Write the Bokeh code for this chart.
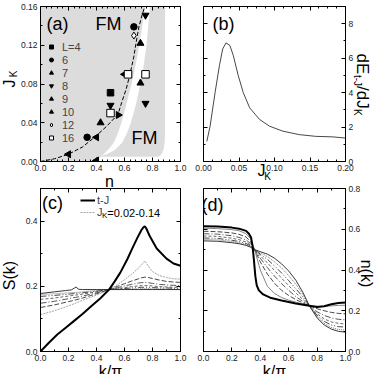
import math
from bokeh.plotting import figure
from bokeh.layouts import column, row
from bokeh.models import (Label, Legend, LegendItem, LinearAxis, SingleIntervalTicker,
                          PrintfTickFormatter, Range1d)
from bokeh.embed import file_html
from bokeh.resources import INLINE

FONT = "Liberation Sans"

a_L4_n, a_L4_J = [0.5], [0.071]
a_L6_n, a_L6_J = [0.333, 0.667], [0.025, 0.139]
a_L7_n, a_L7_J = [0.429, 0.714, 0.714], [0.040, 0.122, 0.081]
a_L8_n, a_L8_J = [0.5, 0.75, 0.75], [0.058, 0.151, 0.060]
a_L9_n, a_L9_J = [0.556], [0.048]
a_L10_n, a_L10_J = [0.2, 0.4, 0.4, 0.6], [0.0075, 0.025, 0.001, 0.090]
a_L12_n, a_L12_J = [0.667], [0.130]
a_L16_n, a_L16_J = [0.5, 0.625, 0.75], [0.050, 0.090, 0.090]

a_bnd_n = [0.0, 0.1, 0.2, 0.3, 0.39, 0.47, 0.553, 0.58, 0.612, 0.641, 0.665, 0.683, 0.703, 0.727, 0.745]
a_bnd_J = [0.0, 0.0028, 0.0075, 0.015, 0.0255, 0.036, 0.0485, 0.061, 0.0747, 0.0911, 0.107, 0.1228, 0.139, 0.152, 0.16]

a_gl_J = [0.0, 0.005, 0.01, 0.015, 0.02, 0.03, 0.04, 0.05, 0.06, 0.08, 0.10, 0.12, 0.14, 0.16]
a_gl_n = [0.39, 0.43, 0.47, 0.50, 0.525, 0.555, 0.578, 0.597, 0.615, 0.65, 0.68, 0.705, 0.727, 0.747]
a_gr_J = [0.005, 0.008, 0.012, 0.016, 0.02, 0.03, 0.04, 0.05, 0.06, 0.08, 0.10, 0.12, 0.14, 0.16]
a_gr_n = [0.42, 0.48, 0.53, 0.56, 0.585, 0.62, 0.645, 0.665, 0.683, 0.713, 0.738, 0.757, 0.77, 0.782]
a_gre_J = [0.16, 0.03, 0.02, 0.013, 0.009, 0.006, 0.005]
a_gre_n = [0.89, 0.89, 0.887, 0.88, 0.87, 0.855, 0.84]

b_J = [0.0047, 0.0093, 0.0163, 0.0224, 0.027, 0.0317, 0.0373, 0.042, 0.049, 0.056,
       0.065, 0.079, 0.093, 0.112, 0.135, 0.158, 0.182, 0.2]
b_dE = [1.17, 2.05, 4.0, 5.56, 6.53, 6.89, 6.73, 6.15, 4.98, 4.0,
        3.12, 2.44, 2.05, 1.76, 1.56, 1.46, 1.43, 1.36]

c_tJ_k = [0, 0.06, 0.12, 0.18, 0.24, 0.30, 0.36, 0.42, 0.49, 0.53, 0.57, 0.62, 0.66, 0.69,
          0.72, 0.735, 0.745, 0.755, 0.78, 0.83, 0.9, 0.95, 1.0]
c_tJ_S = [0, 0.027, 0.052, 0.073, 0.094, 0.115, 0.138, 0.16, 0.19, 0.215, 0.242, 0.283, 0.32,
          0.347, 0.372, 0.381, 0.384, 0.378, 0.354, 0.316, 0.285, 0.27, 0.263]
c_k = [0, 0.1, 0.2, 0.25, 0.3, 0.4, 0.49, 0.55, 0.6, 0.65, 0.7, 0.72, 0.745, 0.77, 0.8, 0.85, 0.9, 0.95, 1.0]
c_J02 = [0.113, 0.125, 0.14, 0.148, 0.157, 0.173, 0.19, 0.205, 0.22, 0.237, 0.256, 0.265, 0.278, 0.262, 0.245, 0.233, 0.227, 0.223, 0.222]
c_J04 = [0.135, 0.143, 0.153, 0.158, 0.164, 0.177, 0.19, 0.2, 0.208, 0.216, 0.223, 0.226, 0.228, 0.227, 0.224, 0.219, 0.215, 0.213, 0.212]
c_J06 = [0.148, 0.154, 0.162, 0.166, 0.17, 0.18, 0.19, 0.196, 0.201, 0.206, 0.21, 0.211, 0.212, 0.211, 0.209, 0.206, 0.204, 0.203, 0.202]
c_J08 = [0.16, 0.164, 0.17, 0.173, 0.176, 0.183, 0.19, 0.193, 0.196, 0.199, 0.201, 0.202, 0.202, 0.202, 0.201, 0.199, 0.198, 0.197, 0.197]
c_J10 = [0.169, 0.172, 0.176, 0.178, 0.18, 0.185, 0.19, 0.192, 0.193, 0.195, 0.196, 0.197, 0.197, 0.197, 0.196, 0.195, 0.195, 0.194, 0.194]
c_J12 = [0.175, 0.177, 0.18, 0.181, 0.183, 0.187, 0.19, 0.191, 0.191, 0.192, 0.192, 0.193, 0.193, 0.193, 0.192, 0.192, 0.192, 0.191, 0.191]
c_J14_k = [0, 0.1, 0.18, 0.22, 0.24, 0.255, 0.27, 0.3, 0.4, 0.49, 0.6, 0.7, 0.8, 0.9, 1.0]
c_J14 = [0.178, 0.183, 0.187, 0.189, 0.194, 0.198, 0.191, 0.19, 0.19, 0.19, 0.19, 0.19, 0.19, 0.19, 0.19]

d_tJ_k = [0, 0.1, 0.2, 0.25, 0.3, 0.32, 0.335, 0.345, 0.355, 0.365, 0.375, 0.39, 0.42, 0.47,
          0.55, 0.65, 0.745, 0.8, 0.85, 0.9, 0.95, 1.0]
d_tJ_n = [0.615, 0.613, 0.608, 0.603, 0.592, 0.578, 0.56, 0.52, 0.45, 0.37, 0.325, 0.30, 0.28,
          0.264, 0.25, 0.236, 0.225, 0.218, 0.222, 0.232, 0.238, 0.24]
d_k = [0, 0.1, 0.2, 0.25, 0.3, 0.33, 0.36, 0.4, 0.45, 0.5, 0.55, 0.6, 0.65, 0.7, 0.745, 0.8, 0.85, 0.9, 0.95, 1.0]
d_J02 = [0.605, 0.603, 0.598, 0.593, 0.578, 0.555, 0.50, 0.40, 0.32, 0.285, 0.265, 0.252, 0.242, 0.233, 0.225, 0.222, 0.222, 0.224, 0.226, 0.227]
d_J04 = [0.59, 0.588, 0.582, 0.575, 0.562, 0.54, 0.50, 0.44, 0.38, 0.335, 0.30, 0.275, 0.255, 0.238, 0.225, 0.21, 0.2, 0.192, 0.187, 0.185]
d_J06 = [0.578, 0.576, 0.568, 0.56, 0.548, 0.53, 0.50, 0.458, 0.412, 0.37, 0.333, 0.30, 0.27, 0.245, 0.225, 0.195, 0.177, 0.165, 0.158, 0.155]
d_J08 = [0.567, 0.565, 0.556, 0.549, 0.537, 0.523, 0.50, 0.47, 0.435, 0.398, 0.36, 0.323, 0.288, 0.255, 0.225, 0.185, 0.16, 0.145, 0.138, 0.135]
d_J10 = [0.557, 0.555, 0.546, 0.54, 0.53, 0.518, 0.50, 0.478, 0.452, 0.42, 0.385, 0.348, 0.308, 0.268, 0.225, 0.177, 0.148, 0.13, 0.122, 0.12]
d_J12 = [0.55, 0.548, 0.54, 0.534, 0.525, 0.515, 0.50, 0.485, 0.466, 0.44, 0.41, 0.372, 0.33, 0.28, 0.225, 0.17, 0.138, 0.118, 0.108, 0.105]
d_J14 = [0.543, 0.541, 0.534, 0.529, 0.521, 0.512, 0.50, 0.49, 0.478, 0.458, 0.43, 0.395, 0.35, 0.29, 0.225, 0.165, 0.13, 0.11, 0.099, 0.095]

THIN_STYLES = [("#999999", "2 1"), ("#333333", "5 2"), ("#444444", "6 2 1 2"),
               ("#555555", "3 2"), ("#333333", "6 2 1 2 1 2"), ("#666666", "1 1"),
               ("#222222", "solid")]


def make_fig(xr, yr, fw, fh, bl, br, bt, bb):
    p = figure(x_range=Range1d(*xr), y_range=Range1d(*yr), frame_width=fw, frame_height=fh,
               min_border_left=bl, min_border_right=br, min_border_top=bt, min_border_bottom=bb,
               output_backend="svg", toolbar_location=None, x_axis_type=None, y_axis_type=None)
    p.outline_line_color = "black"
    p.background_fill_color = "white"
    p.border_fill_color = "white"
    return p


def add_axis(p, side, interval, minor, fmt, labels):
    ax = LinearAxis(ticker=SingleIntervalTicker(interval=interval, num_minor_ticks=minor),
                    formatter=PrintfTickFormatter(format=fmt))
    ax.major_tick_in = 4
    ax.major_tick_out = 0
    ax.minor_tick_in = 2
    ax.minor_tick_out = 0
    ax.axis_line_color = "black"
    ax.major_label_text_font = FONT
    ax.major_label_text_font_size = "8.5px"
    ax.major_label_text_color = "#222222"
    ax.major_label_standoff = 3
    if not labels:
        ax.major_label_text_color = None
        ax.major_label_text_font_size = "1px"
        ax.major_label_standoff = 0
    p.add_layout(ax, side)


def conv(fr):
    L, R, T, B, x0, x1, y0, y1 = fr
    fx = lambda px: x0 + (px - L) / (R - L) * (x1 - x0)
    fy = lambda py: y0 + (B - py) / (B - T) * (y1 - y0)
    return fx, fy


def lab(p, fr, px, py, text, size, align="center", baseline="middle", angle=0.0):
    fx, fy = conv(fr)
    p.add_layout(Label(x=fx(px), y=fy(py), text=text, text_font=FONT,
                       text_font_size=f"{size}px", text_align=align,
                       text_baseline=baseline, angle=angle, text_color="black"))


FA = (48, 188, 14, 169, 0.0, 1.0, 0.0, 0.16)
FB = (211, 353, 14, 169, 0.0, 0.2, 0.0, 9.0)
FC = (48, 188, 196, 359, 0.0, 1.0, 0.0, 0.5)
FD = (211, 353, 196, 359, 0.0, 1.0, 0.0, 0.8)
FO = (8, 383, 8, 382, 0.0, 375.0, 374.0, 0.0)

pa = make_fig((0, 1), (0, 0.16), 140, 155, 40, 11, 6, 21)
add_axis(pa, "below", 0.2, 5, "%.1f", True)
add_axis(pa, "left", 0.04, 2, "%.2f", True)
add_axis(pa, "above", 0.2, 5, "%.1f", False)
add_axis(pa, "right", 0.04, 2, "%.2f", False)
GREY = "#dcdcdc"
pa.patch([0.0] + a_gl_n + [0.0], [0.0] + a_gl_J + [0.16], fill_color=GREY, line_color=None)
pa.patch(a_gr_n + a_gre_n, a_gr_J + a_gre_J, fill_color=GREY, line_color=None)
pa.line(a_bnd_n, a_bnd_J, line_color="black", line_width=1, line_dash="4 2")
S = 6.5
r4 = pa.scatter(a_L4_n, a_L4_J, marker="square", size=S, fill_color="black", line_color="black")
r6 = pa.scatter(a_L6_n, a_L6_J, marker="circle", size=S, fill_color="black", line_color="black")
r7 = pa.scatter(a_L7_n, a_L7_J, marker="triangle", size=7, fill_color="black", line_color="black")
r8 = pa.scatter(a_L8_n, a_L8_J, marker="inverted_triangle", size=7, fill_color="black", line_color="black")
r9 = pa.scatter(a_L9_n, a_L9_J, marker="triangle", angle=-math.pi / 2, size=7, fill_color="black", line_color="black")
r10 = pa.scatter(a_L10_n, a_L10_J, marker="triangle", angle=math.pi / 2, size=7, fill_color="black", line_color="black")
r12 = pa.scatter(a_L12_n, a_L12_J, marker="diamond", size=7, fill_color="white", line_color="black")
r16 = pa.scatter(a_L16_n, a_L16_J, marker="square", size=7.5, fill_color="white", line_color="black")
leg_a = Legend(items=[LegendItem(label=t, renderers=[r]) for t, r in
                      [("L=4", r4), ("6", r6), ("7", r7), ("8", r8), ("9", r9),
                       ("10", r10), ("12", r12), ("16", r16)]],
               location=(6, 17), padding=0, margin=0, spacing=0,
               glyph_width=10, glyph_height=13, label_height=13, label_standoff=6,
               label_text_font=FONT, label_text_font_size="11px",
               background_fill_alpha=0, border_line_color=None)
pa.add_layout(leg_a)
lab(pa, FA, 65, 31.5, "(a)", 18)
lab(pa, FA, 116, 31.5, "FM", 18)
lab(pa, FA, 152, 145, "FM", 18)

pb = make_fig((0, 0.2), (0, 9), 142, 155, 12, 30, 6, 21)
add_axis(pb, "below", 0.05, 4, "%.2f", True)
add_axis(pb, "right", 2, 2, "%d", True)
add_axis(pb, "above", 0.05, 4, "%.2f", False)
add_axis(pb, "left", 2, 2, "%d", False)
pb.line(b_J, b_dE, line_color="#333333", line_width=0.9)
lab(pb, FB, 231, 31, "(b)", 18)

pc = make_fig((0, 1), (0, 0.5), 140, 163, 40, 11, 6, 23)
add_axis(pc, "below", 0.2, 2, "%.1f", True)
add_axis(pc, "left", 0.2, 2, "%.1f", True)
add_axis(pc, "above", 0.2, 2, "%.1f", False)
add_axis(pc, "right", 0.2, 2, "%.1f", False)
c_series = [(c_k, c_J02), (c_k, c_J04), (c_k, c_J06), (c_k, c_J08), (c_k, c_J10), (c_k, c_J12), (c_J14_k, c_J14)]
c_rs = []
for (xs, ys), (col, dash) in zip(c_series, THIN_STYLES):
    c_rs.append(pc.line(xs, ys, line_color=col, line_dash=dash, line_width=0.9))
rc_tj = pc.line(c_tJ_k, c_tJ_S, line_color="black", line_width=2)
leg_c = Legend(items=[LegendItem(label="t-J", renderers=[rc_tj]), LegendItem(label="J", renderers=[c_rs[0]])],
               location=(40, 133), padding=0, margin=0, spacing=0,
               glyph_width=15, glyph_height=12, label_height=12, label_standoff=2,
               label_text_font=FONT, label_text_font_size="11px",
               background_fill_alpha=0, border_line_color=None)
pc.add_layout(leg_c)
lab(pc, FC, 109.5, 223, "K", 8, align="left")
lab(pc, FC, 114.8, 220, "=0.02-0.14", 11, align="left")
lab(pc, FC, 60, 210.8, "(c)", 18)

pd_ = make_fig((0, 1), (0, 0.8), 142, 163, 12, 30, 6, 23)
add_axis(pd_, "below", 0.2, 2, "%.1f", True)
add_axis(pd_, "right", 0.2, 2, "%.1f", True)
add_axis(pd_, "above", 0.2, 2, "%.1f", False)
add_axis(pd_, "left", 0.2, 2, "%.1f", False)
d_series = [d_J02, d_J04, d_J06, d_J08, d_J10, d_J12, d_J14]
d_styles = [("#777777", "solid")] + THIN_STYLES[1:]
for ys, (col, dash) in zip(d_series, d_styles):
    pd_.line(d_k, ys, line_color=col, line_dash=dash, line_width=0.9)
pd_.line(d_tJ_k, d_tJ_n, line_color="black", line_width=2)
lab(pd_, FD, 220, 212.5, "(d)", 18)

# transparent overlay carrying the axis titles, pulled up over the panels
ov = figure(x_range=Range1d(0, 375), y_range=Range1d(374, 0), frame_width=375, frame_height=374,
            min_border_left=0, min_border_right=0, min_border_top=0, min_border_bottom=0,
            output_backend="svg", toolbar_location=None, x_axis_type=None, y_axis_type=None,
            margin=(-374, 0, 0, 0))
ov.outline_line_color = None
ov.background_fill_alpha = 0
ov.border_fill_alpha = 0
PI2 = math.pi / 2
lab(ov, FO, 117, 188.5, "n", 16, baseline="alphabetic")
lab(ov, FO, 16.5, 91, "J", 16, angle=PI2)
lab(ov, FO, 21, 81.5, "K", 10, angle=PI2)
lab(ov, FO, 269, 178, "J", 16)
lab(ov, FO, 275, 184, "K", 10)
lab(ov, FO, 370, 61, "dE", 17, align="left", angle=-PI2)
lab(ov, FO, 364.5, 82.5, "t-J", 10, align="left", angle=-PI2)
lab(ov, FO, 370, 93.5, "/dJ", 17, align="left", angle=-PI2)
lab(ov, FO, 364.5, 116.5, "K", 10, align="left", angle=-PI2)
lab(ov, FO, 17, 283, "S(k)", 16, angle=PI2)
lab(ov, FO, 118, 378.5, "k/\u03c0", 16, baseline="alphabetic")
lab(ov, FO, 373.5, 281, "n(k)", 16, angle=-PI2)
lab(ov, FO, 282, 378.5, "k/\u03c0", 16, baseline="alphabetic")

layout = column(row(pa, pb), row(pc, pd_), ov)
open("out.html", "w").write(file_html(layout, INLINE))
